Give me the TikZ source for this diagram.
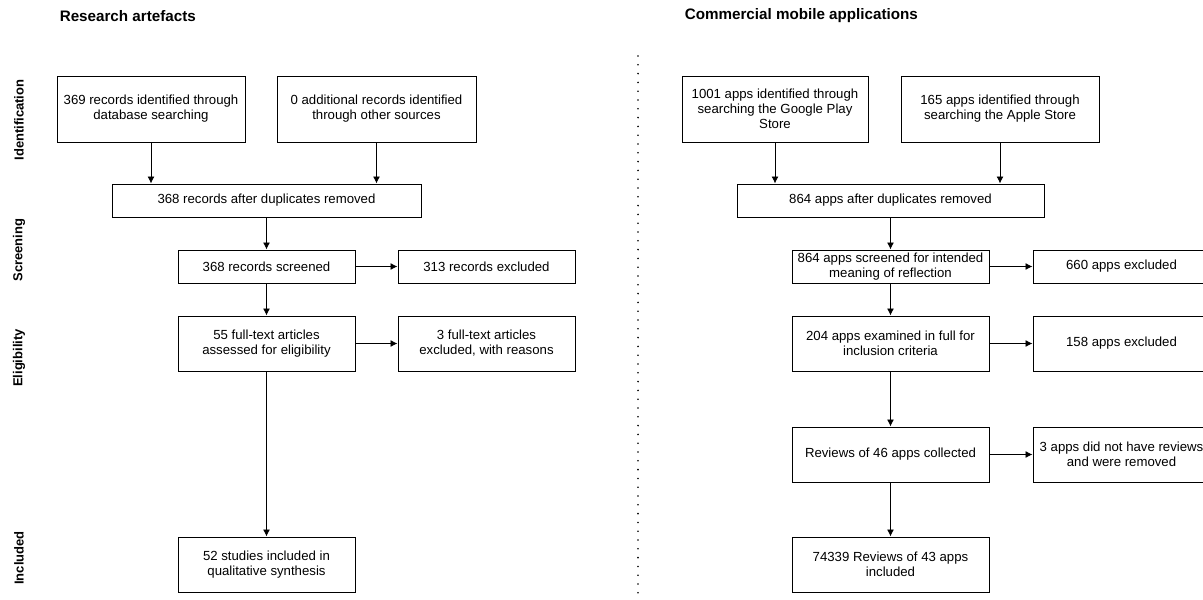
\documentclass[tikz,border=0pt]{standalone}
\usepackage{fontspec}
\setmainfont{Liberation Sans}
\usetikzlibrary{arrows.meta}
\tikzset{
  box/.style = {
    draw, line width=1pt, align=center, inner sep=2pt,
    font=\fontsize{13.2}{15}\selectfont
  },
  phase/.style = {rotate=90, font=\fontsize{13}{15}\selectfont\bfseries},
  heading/.style = {anchor=west, font=\fontsize{15.2}{17}\selectfont\bfseries}
}
\tikzset{>={Latex[length=7pt,width=7pt]}}

\begin{document}
\begin{tikzpicture}[x=1pt,y=-1pt,line width=0.9pt]
  \useasboundingbox (0,0) rectangle (1203,600);
  \node[heading] (t1) at (56,16)  {Research artefacts};
  \node[heading] (t2) at (681,16) {Commercial mobile applications};
  \node[phase] (p1) at (19,120) {Identification};
  \node[phase] (p2) at (19,250) {Screening};
  \node[phase] (p3) at (19,358) {Eligibility};
  \node[phase] (p4) at (19,558) {Included};
  \draw[line width=1.8pt,line cap=round,dash pattern=on 0pt off 8.8pt]
    (638,56) -- (638,594);

  % research artefacts
  \node[box,minimum width=188,minimum height=66] (a1) at (151,109)
    {369 records identified through\\database searching};
  \node[box,minimum width=199,minimum height=66] (a2) at (376.5,109)
    {0 additional records identified\\through other sources};
  \node[box,minimum width=309,minimum height=33] (a3) at (266.5,200.5)
    {368 records after duplicates removed};
  \node[box,minimum width=177,minimum height=33] (a4) at (266.5,266.5)
    {368 records screened};
  \node[box,minimum width=177,minimum height=33] (a5) at (486.5,266.5)
    {313 records excluded};
  \node[box,minimum width=177,minimum height=55] (a6) at (266.5,343.5)
    {55 full-text articles\\assessed for eligibility};
  \node[box,minimum width=177,minimum height=55] (a7) at (486.5,343.5)
    {3 full-text articles\\excluded, with reasons};
  \node[box,minimum width=177,minimum height=55] (a8) at (266.5,564.5)
    {52 studies included in\\qualitative synthesis};
  \draw[->] (a1.south) -- (a1.south |- a3.north);
  \draw[->] (a2.south) -- (a2.south |- a3.north);
  \draw[->] (a3) -- (a4);
  \draw[->] (a4) -- (a5);
  \draw[->] (a4) -- (a6);
  \draw[->] (a6) -- (a7);
  \draw[->] (a6) -- (a8);

  % commercial mobile applications
  \node[box,minimum width=186,minimum height=66] (b1) at (775,109)
    {1001 apps identified through\\searching the Google Play\\Store};
  \node[box,minimum width=198,minimum height=66] (b2) at (1000,109)
    {165 apps identified through\\searching the Apple Store};
  \node[box,minimum width=307,minimum height=33] (b3) at (890.5,200.5)
    {864 apps after duplicates removed};
  \node[box,minimum width=197,minimum height=33] (b4) at (890.5,266.5)
    {864 apps screened for intended\\meaning of reflection};
  \node[box,minimum width=177,minimum height=33] (b5) at (1121.5,266.5)
    {660 apps excluded};
  \node[box,minimum width=197,minimum height=55] (b6) at (890.5,343.5)
    {204 apps examined in full for\\inclusion criteria};
  \node[box,minimum width=177,minimum height=55] (b7) at (1121.5,343.5)
    {158 apps excluded};
  \node[box,minimum width=197,minimum height=55] (b8) at (890.5,454.5)
    {Reviews of 46 apps collected};
  \node[box,minimum width=177,minimum height=55] (b9) at (1121.5,454.5)
    {3 apps did not have reviews\\and were removed};
  \node[box,minimum width=197,minimum height=55] (b10) at (890.5,564.5)
    {74339 Reviews of 43 apps\\included};
  \draw[->] (b1.south) -- (b1.south |- b3.north);
  \draw[->] (b2.south) -- (b2.south |- b3.north);
  \draw[->] (b3) -- (b4);
  \draw[->] (b4) -- (b5);
  \draw[->] (b4) -- (b6);
  \draw[->] (b6) -- (b7);
  \draw[->] (b6) -- (b8);
  \draw[->] (b8) -- (b9);
  \draw[->] (b8) -- (b10);
\end{tikzpicture}
\end{document}
